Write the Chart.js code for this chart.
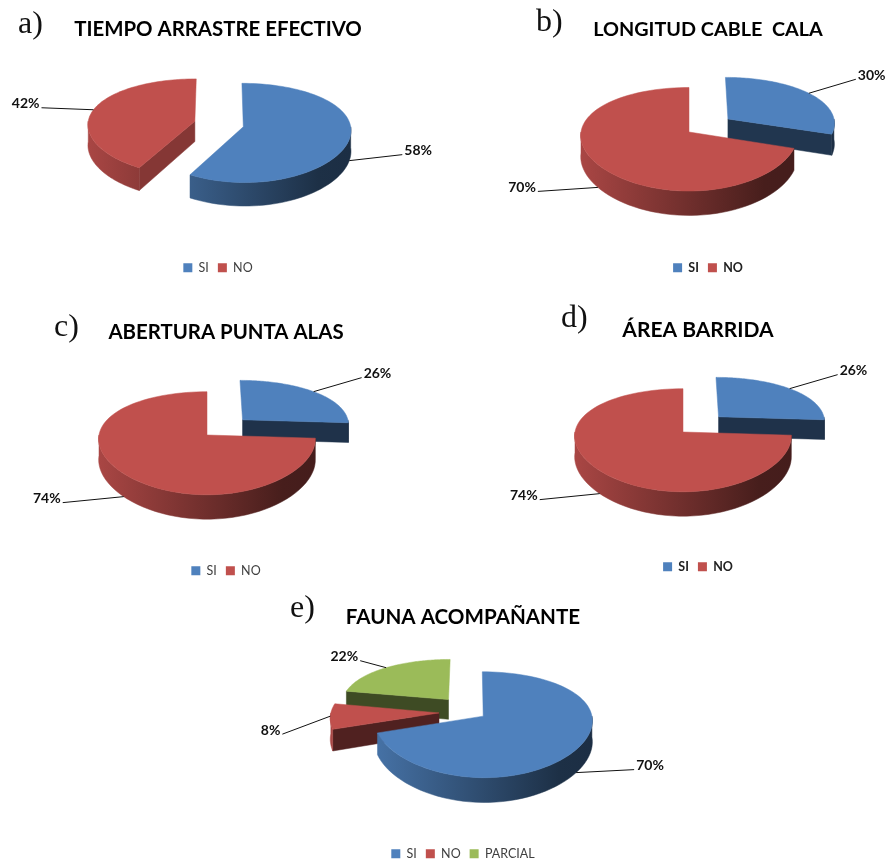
<!DOCTYPE html>
<html lang="es">
<head>
<meta charset="utf-8">
<title>Gráficos de torta</title>
<script src="https://cdn.jsdelivr.net/npm/chart.js@4/dist/chart.umd.min.js"></script>
<style>
  html, body { margin: 0; padding: 0; background: #fff; overflow: hidden; }
  #hoja { position: relative; width: 890px; height: 863px; overflow: hidden; }
  canvas { position: absolute; }
  .letra { position: absolute; font: 32px "Liberation Serif", serif; line-height: 32px; color: #111; }
</style>
</head>
<body>
<div id="hoja"></div>
<script>
// Datos (porcentajes)
const catSiNo = ['SI', 'NO'];
const catFauna = ['SI', 'NO', 'PARCIAL'];
const valTiempo = [58, 42];
const valLongitud = [30, 70];
const valAbertura = [26, 74];
const valArea = [26, 74];
const valFauna = [70, 8, 22];

const AZUL = '#4F81BD', ROJO = '#C0504D', VERDE = '#9BBB59';

function oscurecer(hex, f) {
  const n = parseInt(hex.slice(1), 16);
  return `rgb(${Math.round((n >> 16) * f)},${Math.round(((n >> 8) & 255) * f)},${Math.round((n & 255) * f)})`;
}

// Dibuja la torta con perspectiva a partir de los arcos que calcula Chart.js
const torta3d = {
  id: 'torta3d',
  beforeDatasetsDraw(chart, args, o) {
    const ctx = chart.ctx;
    const arcos = chart.getDatasetMeta(0).data;
    const cx = o.cx - o.left, cy = o.cy - o.top;

    const slices = arcos.map((el, i) => {
      const R = el.outerRadius;
      const a0 = el.startAngle + Math.PI / 2, a1 = el.endAngle + Math.PI / 2;
      const mid = (a0 + a1) / 2;
      const d = o.explota[i] / R;
      const ox = Math.sin(mid) * d, oy = Math.cos(mid) * d;
      const pt = (u, v, abajo) => {
        const w = 1 + o.persp * v;
        const wx = 1 + o.persp * 0.5 * v;
        return [cx + R * u / wx, cy - R * o.alto * v / w + (abajo ? o.prof / w : 0)];
      };
      const borde = (t, abajo) => pt(ox + Math.sin(t), oy + Math.cos(t), abajo);
      return { el, i, R, a0, a1, mid, ox, oy, pt, borde, color: el.options.backgroundColor };
    });

    // de atras hacia adelante
    const orden = [...slices].sort((p, q) => (q.oy + Math.cos(q.mid)) - (p.oy + Math.cos(p.mid)));

    orden.forEach(s => {
      const rellenar = (pts, col) => {
        ctx.beginPath();
        pts.forEach((p, k) => k ? ctx.lineTo(p[0], p[1]) : ctx.moveTo(p[0], p[1]));
        ctx.closePath();
        ctx.fillStyle = col;
        ctx.fill();
        ctx.strokeStyle = col;
        ctx.lineWidth = 0.5;
        ctx.stroke();
      };

      // paredes de corte, solo las que miran al frente
      [[s.a0, -1], [s.a1, 1]].forEach(([t, lado]) => {
        const vn = Math.cos(t + lado * Math.PI / 2);
        if (vn >= -0.02) return;
        const f = 0.39 + 0.58 * (1 + vn);
        const pts = [s.pt(s.ox, s.oy, false), s.borde(t, false), s.borde(t, true), s.pt(s.ox, s.oy, true)];
        rellenar(pts, oscurecer(s.color, f));
      });

      // pared curva, con degradado horizontal
      const ini = Math.max(s.a0, Math.PI / 2), fin = Math.min(s.a1, Math.PI * 1.5);
      if (fin > ini) {
        const n = 50, arriba = [], abajo = [];
        for (let k = 0; k <= n; k++) {
          const t = ini + (fin - ini) * k / n;
          arriba.push(s.borde(t, false));
          abajo.unshift(s.borde(t, true));
        }
        const xc = cx + s.R * s.ox;
        const g = ctx.createLinearGradient(xc - s.R, 0, xc + s.R, 0);
        g.addColorStop(0, oscurecer(s.color, 0.88));
        g.addColorStop(0.85, oscurecer(s.color, 0.37));
        g.addColorStop(1, oscurecer(s.color, 0.36));
        rellenar(arriba.concat(abajo), g);
      }

      // cara superior
      const cara = [s.pt(s.ox, s.oy, false)];
      const n = 90;
      for (let k = 0; k <= n; k++) cara.push(s.borde(s.a0 + (s.a1 - s.a0) * k / n, false));
      rellenar(cara, s.color);
    });

    // lineas guia y etiquetas
    ctx.font = o.fuente;
    ctx.textBaseline = 'middle';
    slices.forEach(s => {
      const v = s.oy + Math.cos(s.mid);
      const a = s.borde(s.mid, v < -0.2);
      const dx = o.guias[s.i][0], dy = o.guias[s.i][1];
      ctx.beginPath();
      ctx.moveTo(a[0], a[1]);
      ctx.lineTo(a[0] + dx, a[1] + dy);
      ctx.strokeStyle = '#111';
      ctx.lineWidth = 1;
      ctx.stroke();
      ctx.fillStyle = '#111';
      ctx.textAlign = dx > 0 ? 'left' : 'right';
      const txt = chart.data.datasets[0].data[s.i] + '%';
      ctx.fillText(txt, a[0] + dx + (dx > 0 ? 2 : -2), a[1] + dy - 4);
    });
    return false;
  }
};

function crearTorta(cfg) {
  const lienzo = document.createElement('canvas');
  lienzo.width = cfg.w;
  lienzo.height = cfg.h;
  lienzo.style.left = cfg.left + 'px';
  lienzo.style.top = cfg.top + 'px';
  document.getElementById('hoja').appendChild(lienzo);

  const letra = document.createElement('div');
  letra.className = 'letra';
  letra.textContent = cfg.letra[0];
  letra.style.left = cfg.letra[1] + 'px';
  letra.style.top = cfg.letra[2] + 'px';
  document.getElementById('hoja').appendChild(letra);

  new Chart(lienzo, {
    type: 'pie',
    data: {
      labels: cfg.categorias,
      datasets: [{ data: cfg.valores, backgroundColor: cfg.colores, borderWidth: 0, radius: cfg.R }]
    },
    plugins: [torta3d],
    options: {
      responsive: false,
      animation: false,
      layout: { padding: 0 },
      plugins: {
        title: {
          display: true,
          text: cfg.titulo,
          color: '#000',
          font: { family: 'Lato', weight: 'bold', size: cfg.tamTitulo },
          padding: { top: cfg.pTitulo, bottom: 4 }
        },
        legend: {
          position: 'bottom',
          labels: {
            boxWidth: 9, boxHeight: 9, padding: 9,
            color: cfg.negrita ? '#222' : '#404040',
            font: { family: 'Lato', size: 12.5, weight: cfg.negrita ? 'bold' : 'normal' }
          }
        },
        tooltip: { enabled: false },
        torta3d: {
          left: cfg.left, top: cfg.top, cx: cfg.cx, cy: cfg.cy,
          alto: cfg.alto, persp: cfg.persp, prof: cfg.prof,
          explota: cfg.explota, guias: cfg.guias,
          fuente: 'bold 14px Lato'
        }
      }
    }
  });
}

crearTorta({
  letra: ['a)', 18, 6], titulo: 'TIEMPO ARRASTRE EFECTIVO', categorias: catSiNo, valores: valTiempo, colores: [AZUL, ROJO],
  left: 0, top: 0, w: 436, h: 284, tamTitulo: 20.4, pTitulo: 17,
  cx: 219, cy: 124, R: 107, alto: 0.45, persp: 0.122, prof: 20.5,
  explota: [25, 25], guias: [[53, -6], [-52, -2]]
});
crearTorta({
  letra: ['b)', 536, 4], titulo: 'LONGITUD CABLE  CALA', categorias: catSiNo, valores: valLongitud, colores: [AZUL, ROJO],
  left: 507, top: 0, w: 402, h: 284, tamTitulo: 19.8, pTitulo: 18, negrita: true,
  cx: 689, cy: 132, R: 108, alto: 0.47, persp: 0.14, prof: 21,
  explota: [49, 0], guias: [[47, -14], [-60, 4]]
});
crearTorta({
  letra: ['c)', 54, 309], titulo: 'ABERTURA PUNTA ALAS', categorias: catSiNo, valores: valAbertura, colores: [AZUL, ROJO],
  left: 0, top: 300, w: 452, h: 287, tamTitulo: 20.4, pTitulo: 20,
  cx: 207, cy: 435, R: 108, alto: 0.465, persp: 0.16, prof: 20.5,
  explota: [50, 0], guias: [[48, -14], [-61, 6]]
});
crearTorta({
  letra: ['d)', 561, 300], titulo: 'ÁREA BARRIDA', categorias: catSiNo, valores: valArea, colores: [AZUL, ROJO],
  left: 494, top: 300, w: 408, h: 283, tamTitulo: 21, pTitulo: 18, negrita: true,
  cx: 683, cy: 432, R: 108, alto: 0.465, persp: 0.16, prof: 20.5,
  explota: [50, 0], guias: [[48, -14], [-60, 6]]
});
crearTorta({
  letra: ['e)', 290, 590], titulo: 'FAUNA ACOMPAÑANTE', categorias: catFauna, valores: valFauna, colores: [AZUL, ROJO, VERDE],
  left: 244, top: 590, w: 438, h: 280, tamTitulo: 20.6, pTitulo: 15,
  cx: 471, cy: 712, R: 108, alto: 0.465, persp: 0.16, prof: 20.5,
  explota: [15, 32, 36], guias: [[58, -3], [-48, 18], [-26, -7]]
});
</script>
</body>
</html>
